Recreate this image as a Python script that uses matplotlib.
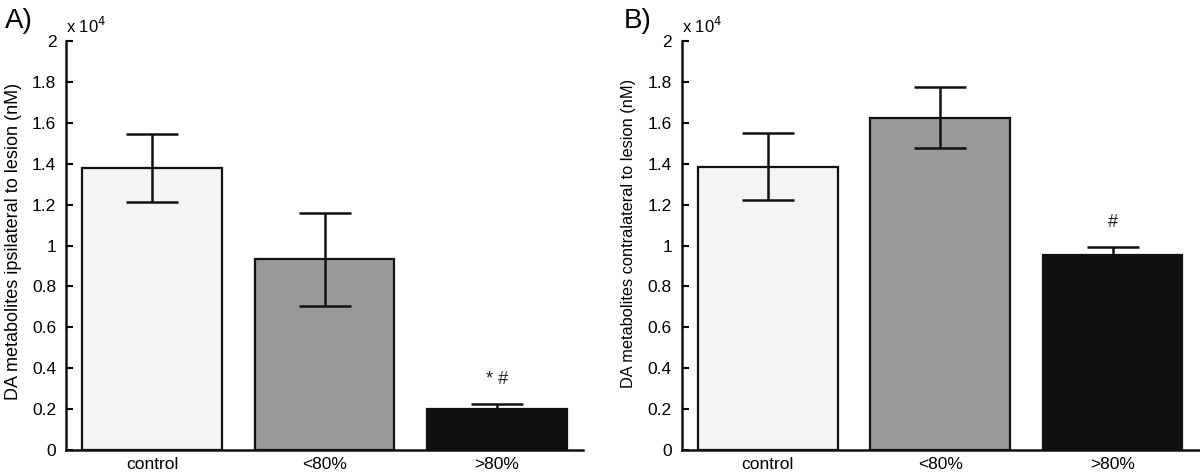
import matplotlib
matplotlib.use("Agg")
import matplotlib.pyplot as plt
import numpy as np

plt.rcParams['font.family'] = ['Liberation Sans', 'DejaVu Sans']

categories = ["control", "<80%", ">80%"]
colors = ["#f4f4f4", "#999999", "#111111"]

ipsi_mean = [1.38, 0.932, 0.20]
ipsi_err = [0.165, 0.226, 0.024]
contra_mean = [1.385, 1.625, 0.953]
contra_err = [0.163, 0.150, 0.040]

yticks = [0, 0.2, 0.4, 0.6, 0.8, 1.0, 1.2, 1.4, 1.6, 1.8, 2.0]
ytick_labels = ["0", "0.2", "0.4", "0.6", "0.8", "1", "1.2", "1.4", "1.6", "1.8", "2"]

panels = [
    ("A)", "DA metabolites ipsilateral to lesion (nM)", ipsi_mean, ipsi_err, ["", "", "* #"], 13, 0.511, -0.085),
    ("B)", "DA metabolites contralateral to lesion (nM)", contra_mean, contra_err, ["", "", "#"], 11.8, 0.53, -0.088),
]

fig = plt.figure(figsize=(12, 4.74), dpi=100)
positions = [[0.055, 0.0506, 0.431, 0.8629], [0.568, 0.0506, 0.431, 0.8629]]
label_pos = [(0.004, 0.955), (0.520, 0.955)]

for (lab, ylab, means, errs, annots, yfs, ypos, xpos), pos, lp in zip(panels, positions, label_pos):
    ax = fig.add_axes(pos)
    x = np.arange(1, len(categories) + 1)
    ax.bar(x, means, width=0.81, color=colors, edgecolor="#111111", linewidth=1.6, zorder=2)
    ax.errorbar(x, means, yerr=errs, fmt="none", ecolor="#111111", elinewidth=1.8,
                capsize=18.5, capthick=1.8, zorder=3)
    for xi, m, e, a in zip(x, means, errs, annots):
        if a:
            ax.text(xi, m + e + 0.08, a, ha="center", va="bottom", fontsize=13, color="#222222")
    ax.set_xlim(0.5, 3.5)
    ax.set_ylim(0, 2)
    ax.set_xticks(x)
    ax.set_xticklabels(categories, fontsize=12.5)
    ax.set_yticks(yticks)
    ax.set_yticklabels(ytick_labels, fontsize=12.5)
    ax.tick_params(axis="x", length=0, pad=5)
    ax.tick_params(axis="y", direction="in", length=5, width=1.5, pad=7)
    for s in ["top", "right"]:
        ax.spines[s].set_visible(False)
    for s in ["left", "bottom"]:
        ax.spines[s].set_linewidth(1.8)
        ax.spines[s].set_color("#111111")
    ax.set_ylabel(ylab, fontsize=yfs)
    ax.yaxis.set_label_coords(xpos, ypos)
    ax.text(0.0, 1.012, r"x 10$^{4}$", transform=ax.transAxes, ha="left", va="bottom", fontsize=12)
    fig.text(lp[0], lp[1], lab, fontsize=20, ha="left", va="center")

fig.savefig("out.png", dpi=100)
